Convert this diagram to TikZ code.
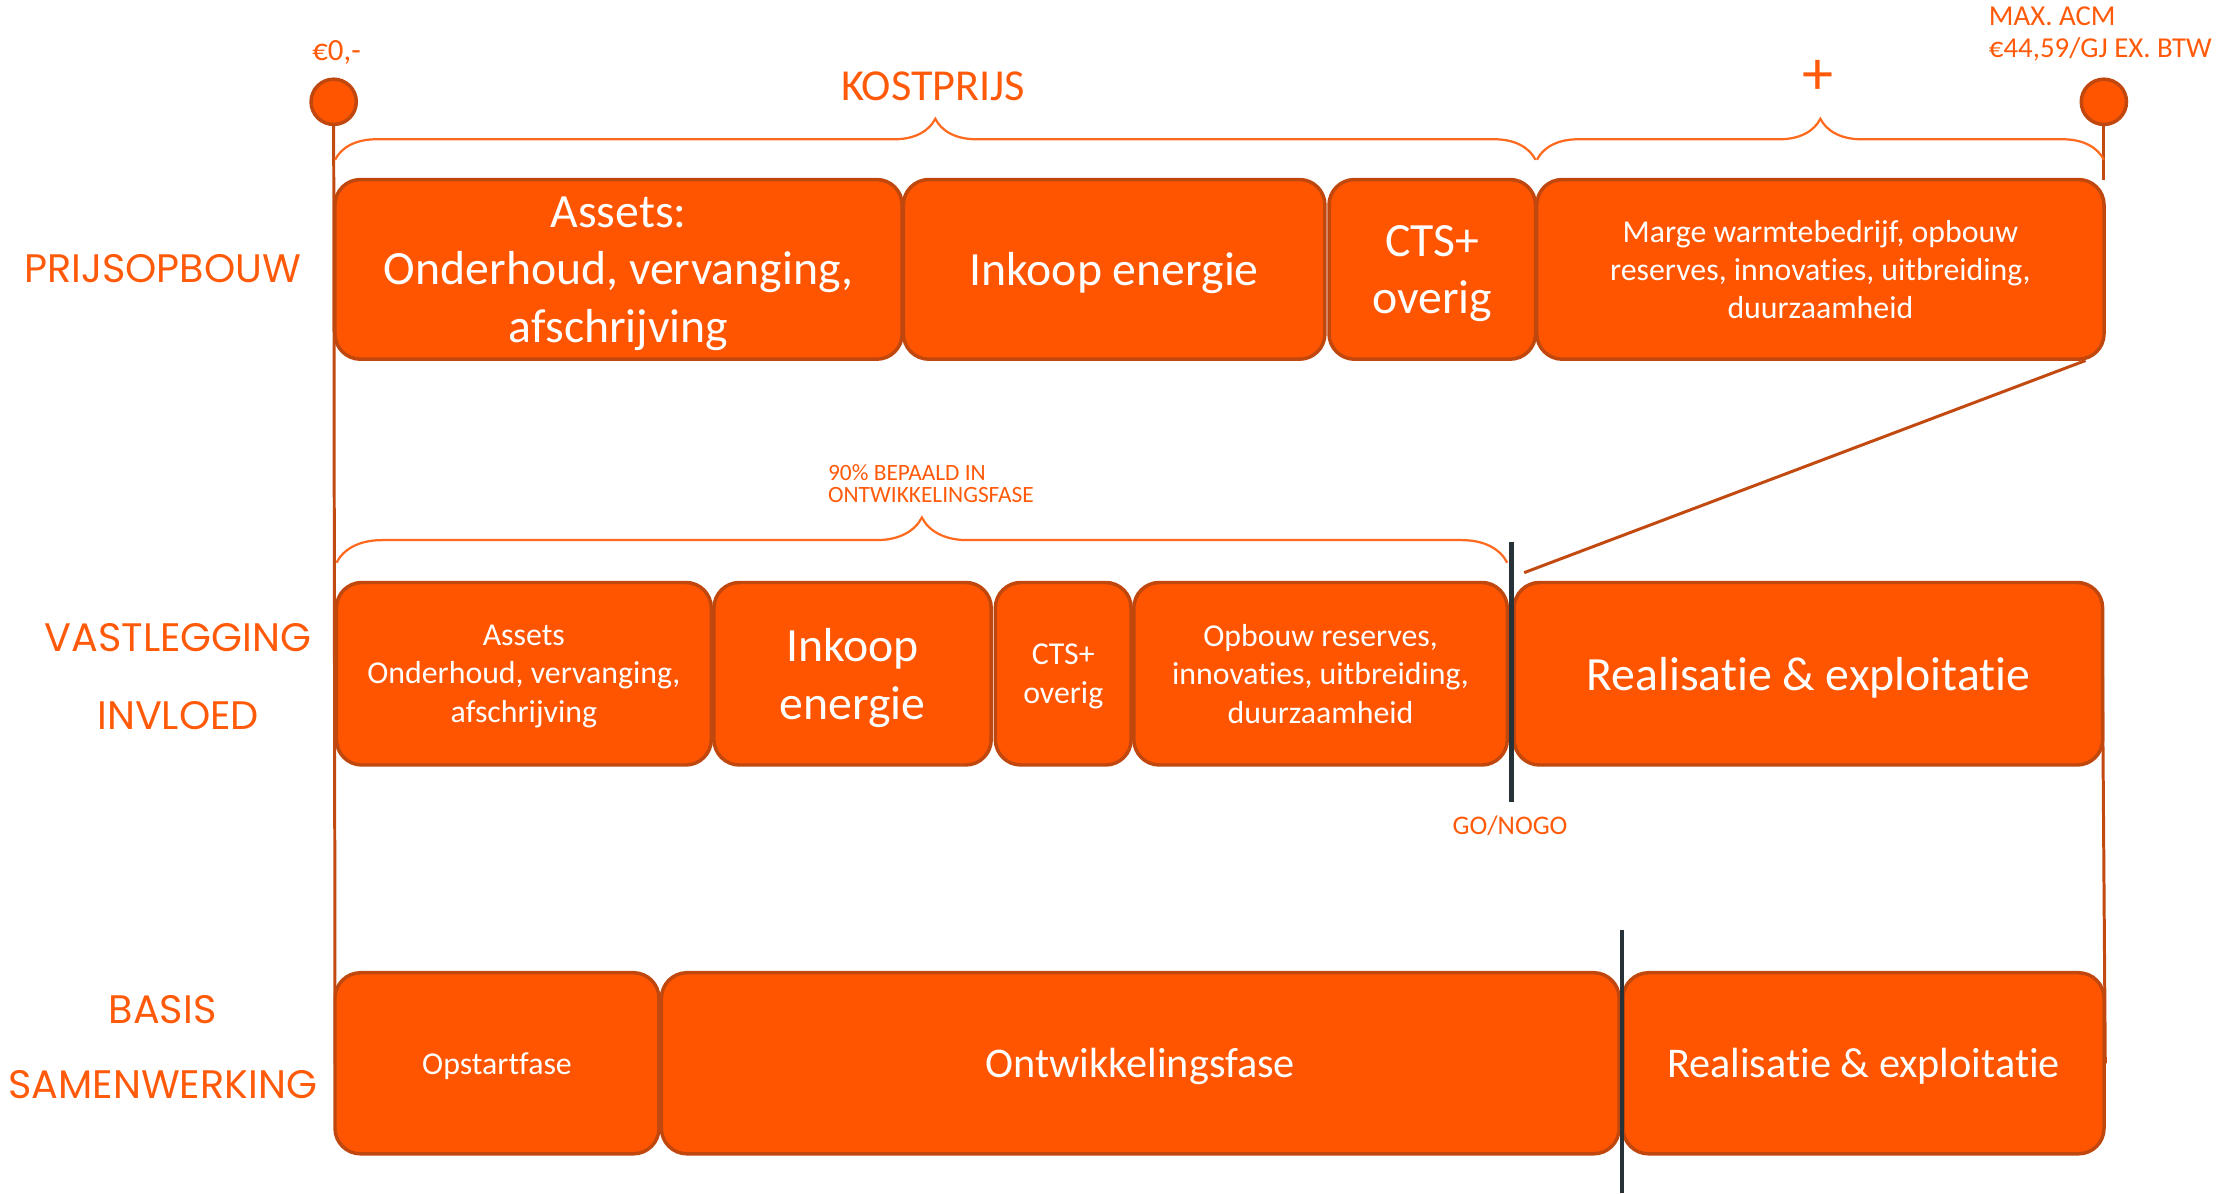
\documentclass[tikz,border=0pt]{standalone}
\usepackage{fontspec}
\setmainfont{Carlito}[Ligatures={NoCommon}]
\newfontfamily\rijfont{Poppins}
\usetikzlibrary{decorations.pathreplacing}
\definecolor{oranje}{HTML}{FF5500}
\definecolor{rand}{HTML}{C0470E}
\definecolor{lijn}{HTML}{C24A10}
\definecolor{accol}{HTML}{FF6A1F}
\definecolor{tekst}{HTML}{FF5A0A}
\definecolor{donker}{HTML}{263238}

\begin{document}
\begin{tikzpicture}[x=0.01cm, y=-0.01cm,
  blok/.style = {draw=rand, line width=0.7pt, fill=oranje, rounded corners=0.18cm,
                 text=white, align=center, inner sep=0pt, text depth=0pt},
  groot/.style = {font=\fontsize{9.6}{11.6}\selectfont},
  middel/.style = {font=\fontsize{8.5}{10}\selectfont},
  klein/.style = {font=\fontsize{6.4}{7.7}\selectfont},
  rij/.style = {text=tekst, align=center, font=\rijfont\fontsize{8}{15.5}\selectfont},
  kop/.style = {text=tekst, inner sep=0pt},
  accolade/.style = {draw=accol, line width=0.45pt, decorate,
                     decoration={brace, amplitude=#1}},
  verbinding/.style = {draw=lijn, line width=0.6pt},
  grens/.style = {draw=donker, line width=0.9pt}
]
  \useasboundingbox (0,0) rectangle (1568,844);

  % eindpunten
  \node [circle, fill=oranje, draw=rand, line width=0.7pt, minimum size=0.32cm, inner sep=0pt] (nul) at (236,72) {};
  \node [circle, fill=oranje, draw=rand, line width=0.7pt, minimum size=0.32cm, inner sep=0pt] (max) at (1488,72) {};
  \node [kop, font=\fontsize{6.2}{7}\selectfont] (nullabel) at (238,37) {€0,-};
  \node [kop, anchor=north west, align=left, font=\fontsize{5.8}{6.5}\selectfont] (maxlabel) at (1406,4) {MAX. ACM\\€44,59/GJ EX. BTW};

  % rijen
  \node [rij] (prijs) at (115,190) {PRIJSOPBOUW};
  \node [rij] (vast) at (126,478.5) {VASTLEGGING\\INVLOED};
  \node [rij, font=\rijfont\fontsize{8}{15}\selectfont] (basis) at (115,740.5) {BASIS\\SAMENWERKING};

  % verbindingen achter de blokken
  \draw [verbinding] (nul.south) -- (237,752);
  \draw [verbinding] (max.south) -- (1488,127);
  \draw [verbinding] (1487,476) -- (1489,752);

  % prijsopbouw
  \node [blok, groot, minimum width=4.01cm, minimum height=1.27cm] (assets) at (437.5,190.5)
    {Assets:\\Onderhoud, vervanging,\\afschrijving};
  \node [blok, groot, minimum width=2.98cm, minimum height=1.27cm] (inkoop) at (788,190.5)
    {Inkoop energie};
  \node [blok, groot, minimum width=1.46cm, minimum height=1.27cm] (cts) at (1013,190.5)
    {CTS+\\overig};
  \node [blok, klein, minimum width=4.01cm, minimum height=1.27cm] (marge) at (1287.5,190.5)
    {Marge warmtebedrijf, opbouw\\reserves, innovaties, uitbreiding,\\duurzaamheid};

  % vastlegging
  \node [blok, klein, minimum width=2.65cm, minimum height=1.29cm] (vassets) at (370.5,476.5)
    {Assets\\Onderhoud, vervanging,\\afschrijving};
  \node [blok, groot, minimum width=1.96cm, minimum height=1.29cm] (vinkoop) at (603,476.5)
    {Inkoop\\energie};
  \node [blok, klein, minimum width=0.96cm, minimum height=1.29cm] (vcts) at (752,476.5)
    {CTS+\\overig};
  \node [blok, klein, minimum width=2.64cm, minimum height=1.29cm] (vopbouw) at (934,476.5)
    {Opbouw reserves,\\innovaties, uitbreiding,\\duurzaamheid};
  \node [blok, groot, minimum width=4.16cm, minimum height=1.29cm] (vreal) at (1279,476.5)
    {Realisatie \& exploitatie};

  % basis samenwerking
  \node [blok, klein, minimum width=2.29cm, minimum height=1.28cm] (opstart) at (351.5,752)
    {Opstartfase};
  \node [blok, middel, minimum width=6.77cm, minimum height=1.28cm] (ontw) at (806.5,752)
    {Ontwikkelingsfase};
  \node [blok, middel, minimum width=3.40cm, minimum height=1.28cm] (breal) at (1318,752)
    {Realisatie \& exploitatie};

  % accolades
  \draw [accolade=0.29cm] (237,113) -- (1086,113);
  \draw [accolade=0.29cm] (1087,113) -- (1488,113);
  \draw [accolade=0.32cm] (238,398) -- (1066,398);
  \node [kop, font=\fontsize{8.9}{10}\selectfont] (kostprijs) at (660,61) {KOSTPRIJS};
  \node [kop, font=\fontsize{12.5}{13}\selectfont] (plus) at (1286,55) {+};
  \node [kop, anchor=north west, align=left, font=\fontsize{4.7}{4.3}\selectfont] (bepaald) at (585,328)
    {90\% BEPAALD IN\\ONTWIKKELINGSFASE};

  % go/nogo
  \node [kop, font=\fontsize{5.4}{6}\selectfont] (gonogo) at (1068,584) {GO/NOGO};
  \coordinate (gotop) at (1069,383);
  \draw [grens] (gotop) -- (gotop |- 0,567);
  \coordinate (fasetop) at (1147,658);
  \draw [grens] (fasetop) -- (1147,844);

  \coordinate (schuinboven) at (1475,255);
  \coordinate (schuinonder) at (1078,405);
  \draw [verbinding] (schuinboven) -- (schuinonder);
\end{tikzpicture}
\end{document}
